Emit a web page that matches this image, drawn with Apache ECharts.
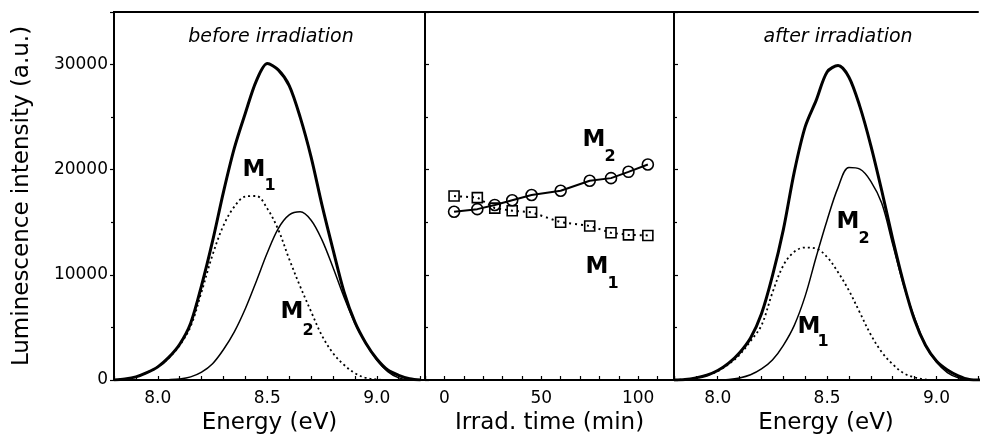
<!DOCTYPE html>
<html>
<head>
<meta charset="utf-8">
<script src="https://cdn.jsdelivr.net/npm/echarts@6/dist/echarts.min.js"></script>
<style>html,body{margin:0;padding:0;background:#fff;overflow:hidden;}#c{width:981px;height:440px;}</style>
</head>
<body>
<div id="c"></div>
<script>
// ---- data ----
const energy = [7.80,7.85,7.90,7.95,8.00,8.05,8.10,8.15,8.20,8.25,8.30,8.35,8.40,8.45,8.50,8.55,8.60,8.65,8.70,8.75,8.80,8.85,8.90,8.95,9.00,9.05,9.10,9.15,9.20];
const beforeTotal = [0,100,300,700,1250,2150,3400,5400,9000,13200,17900,22100,25400,28450,30100,29500,28000,25000,21200,16600,12400,8400,5500,3500,2000,950,450,120,0];
const beforeM1 = [0,100,300,700,1250,2100,3300,5100,8400,11900,14700,16500,17450,17500,16300,14300,11500,8900,6500,4200,2550,1450,650,200,50,0,0,0,0];
const beforeM2 = [0,0,0,0,0,30,100,300,750,1550,2900,4600,6800,9400,12100,14400,15700,16000,15200,13300,10700,7900,5400,3500,1900,800,200,0,0];
const afterTotal = [0,50,200,450,900,1600,2600,4000,6300,9900,14300,19800,24100,26600,29300,29900,28800,26000,22300,18000,13400,9200,5700,3300,1800,950,400,50,0];
const afterM1 = [0,50,200,450,850,1500,2400,3700,5200,8300,10900,12200,12600,12500,11700,10250,8500,6400,4300,2650,1500,650,250,60,0,0,0,0,0];
const afterM2 = [0,0,0,0,0,50,200,500,1050,1900,3300,5200,8000,11700,15200,18300,20200,20050,18900,16800,12900,9000,5900,3300,1700,700,200,0,0];
const irradTime = [5,17,26,35,45,60,75,86,95,105];
const timeM2 = [16000,16250,16650,17100,17600,18000,18950,19200,19800,20500];
const timeM1 = [17500,17350,16350,16100,15950,15000,14650,14000,13800,13750];
const yTicks = [0,10000,20000,30000];

const zip = (xs, ys) => xs.map((x, i) => [x, ys[i]]);
const FONT = 'DejaVu Sans';

const chart = echarts.init(document.getElementById('c'), null, {renderer: 'canvas'});

function energyAxis(idx, max) {
  return {
    type: 'value', gridIndex: idx, min: 7.8, max: max, interval: 0.1,
    name: 'Energy (eV)', nameLocation: 'middle', nameGap: 32,
    nameTextStyle: {fontFamily: FONT, fontSize: 23, color: '#000'},
    axisLine: {show: true, onZero: false, lineStyle: {color: '#000', width: 2}},
    axisTick: {show: true, inside: true, length: 4, lineStyle: {color: '#000', width: 1.2}},
    axisLabel: {
      fontFamily: FONT, fontSize: 17, color: '#000', margin: 10,
      formatter: v => (Math.abs(v * 2 - Math.round(v * 2)) < 1e-6 ? v.toFixed(1) : '')
    },
    splitLine: {show: false}
  };
}
function yAx(idx, showLabels) {
  return {
    type: 'value', gridIndex: idx, min: 0, max: 35000, interval: 10000,
    name: showLabels ? 'Luminescence intensity (a.u.)' : '',
    nameLocation: 'middle', nameGap: 80,
    nameTextStyle: {fontFamily: FONT, fontSize: 23, color: '#000'},
    axisLine: {show: true, onZero: false, lineStyle: {color: '#000', width: 2}},
    axisTick: {show: true, inside: !showLabels, length: 4, lineStyle: {color: '#000', width: 1.2}},
    minorTick: {show: true, splitNumber: 2, length: 3, lineStyle: {color: '#000', width: 1.2}},
    axisLabel: {show: showLabels, fontFamily: FONT, fontSize: 17, color: '#000', margin: 6,
      formatter: v => (yTicks.indexOf(v) >= 0 ? String(v) : '')},
    splitLine: {show: false}
  };
}
const thick = {color: '#000', width: 3};
const thin = {color: '#000', width: 1.5};
const dotted = {color: '#000', width: 1.8, type: [2, 3]};

function curve(gi, ys, ls, smooth) {
  return {type: 'line', xAxisIndex: gi, yAxisIndex: gi, data: zip(energy, ys), symbol: 'none',
    smooth: smooth, lineStyle: ls, silent: true, z: 3};
}

function subLabel(M, sub, mx, my, sx, sy) {
  return [
    {type: 'text', style: {text: M, x: mx, y: my, align: 'center', verticalAlign: 'middle',
      font: 'bold 23px "DejaVu Sans"', fill: '#000'}, z: 10},
    {type: 'text', style: {text: sub, x: sx, y: sy, align: 'center', verticalAlign: 'middle',
      font: 'bold 16px "DejaVu Sans"', fill: '#000'}, z: 10}
  ];
}

const option = {
  animation: false,
  backgroundColor: '#fff',
  grid: [
    {left: 114, top: 12, width: 311, height: 368, show: true, borderColor: '#000', borderWidth: 2},
    {left: 425, top: 12, width: 249, height: 368, show: true, borderColor: '#000', borderWidth: 2},
    {left: 674, top: 12, width: 307, height: 368, show: false}
  ],
  xAxis: [
    energyAxis(0, 9.22),
    {
      type: 'value', gridIndex: 1, min: -10, max: 118.5, interval: 10,
      name: 'Irrad. time (min)', nameLocation: 'middle', nameGap: 32,
      nameTextStyle: {fontFamily: FONT, fontSize: 23, color: '#000'},
      axisLine: {show: true, onZero: false, lineStyle: {color: '#000', width: 2}},
      axisTick: {show: true, inside: true, length: 4, lineStyle: {color: '#000', width: 1.2}},
      axisLabel: {fontFamily: FONT, fontSize: 17, color: '#000', margin: 10,
        formatter: v => (v % 50 === 0 ? String(v) : '')},
      splitLine: {show: false}
    },
    energyAxis(2, 9.19),
    {
      type: 'value', gridIndex: 2, position: 'top', min: 7.8, max: 9.19,
      axisLine: {show: true, onZero: false, lineStyle: {color: '#000', width: 2}},
      axisTick: {show: false}, axisLabel: {show: false}, splitLine: {show: false}
    }
  ],
  yAxis: [yAx(0, true), yAx(1, false), yAx(2, false)],
  series: [
    curve(0, beforeTotal, thick, 0.3),
    curve(0, beforeM1, dotted, 0.35),
    curve(0, beforeM2, thin, 0.35),
    {type: 'line', xAxisIndex: 1, yAxisIndex: 1, data: zip(irradTime, timeM2),
      symbol: 'circle', symbolSize: 11, lineStyle: {color: '#000', width: 2},
      itemStyle: {color: 'rgba(0,0,0,0)', borderColor: '#000', borderWidth: 1.6}},
    {type: 'line', xAxisIndex: 1, yAxisIndex: 1, data: zip(irradTime, timeM1),
      symbol: 'rect', symbolSize: 10, lineStyle: {color: '#000', width: 2, type: [2, 4]},
      itemStyle: {color: 'rgba(0,0,0,0)', borderColor: '#000', borderWidth: 1.6}},
    curve(2, afterTotal, thick, 0.3),
    curve(2, afterM1, dotted, 0.35),
    curve(2, afterM2, thin, 0.35)
  ],
  graphic: [
    {type: 'text', style: {text: 'before irradiation', x: 271, y: 37, align: 'center', verticalAlign: 'middle',
      font: 'italic 19px "DejaVu Sans"', fill: '#000'}},
    {type: 'text', style: {text: 'after irradiation', x: 838, y: 37, align: 'center', verticalAlign: 'middle',
      font: 'italic 19px "DejaVu Sans"', fill: '#000'}}
  ].concat(
    subLabel('M', '1', 254, 170, 270, 186),
    subLabel('M', '2', 292, 312, 308, 331),
    subLabel('M', '2', 594, 140, 610, 157),
    subLabel('M', '1', 597, 267, 613, 284),
    subLabel('M', '2', 848, 222, 864, 239),
    subLabel('M', '1', 809, 327, 823, 342)
  )
};
chart.setOption(option);
</script>
</body>
</html>
